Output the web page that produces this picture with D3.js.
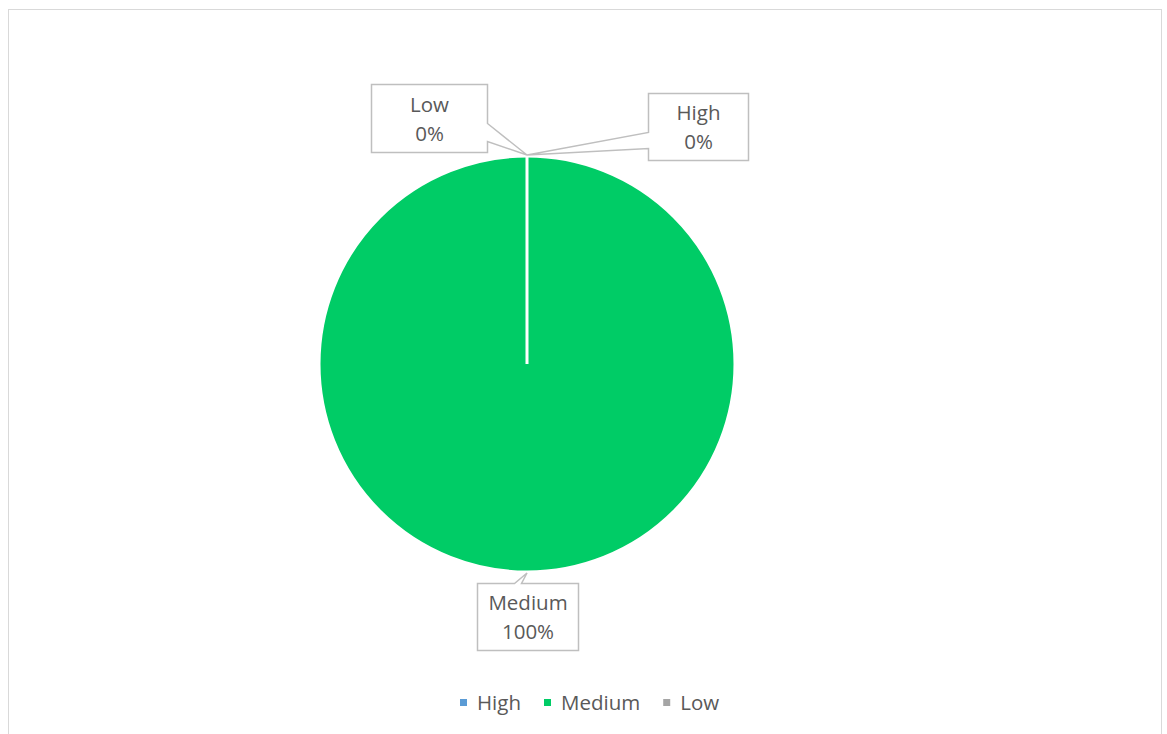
<!DOCTYPE html>
<html>
<head>
<meta charset="utf-8">
<script src="https://cdn.jsdelivr.net/npm/d3@7"></script>
<style>
  html, body { margin: 0; padding: 0; background: #ffffff; }
  svg { display: block; font-family: "Open Sans", sans-serif; }
</style>
</head>
<body>
<svg id="chart" width="1167" height="734"></svg>
<script>
// ---- data ----
const categories = ["High", "Medium", "Low"];
const values = [0, 1, 0];
const colors = ["#5B9BD5", "#00CC66", "#A5A5A5"];

// ---- layout ----
const W = 1167, H = 734;
const cx = 527, cy = 364, R = 208;
const svg = d3.select("#chart");

// chart area border
svg.append("rect")
  .attr("x", 8.5).attr("y", 9.5)
  .attr("width", 1153).attr("height", 760)
  .attr("fill", "#fff").attr("stroke", "#D9D9D9").attr("stroke-width", 1);

const total = d3.sum(values);
const pie = d3.pie().sort(null).value(d => d)(values);
const arc = d3.arc().innerRadius(0).outerRadius(R);

const g = svg.append("g").attr("transform", `translate(${cx},${cy})`);
g.selectAll("path.slice")
  .data(pie)
  .join("path")
  .attr("class", "slice")
  .attr("d", arc)
  .attr("fill", (d, i) => colors[i])
  .attr("stroke", "#ffffff")
  .attr("stroke-width", 3)
  .attr("stroke-linejoin", "miter");

// callout boxes: offsets relative to the leader tip on the pie edge
const callouts = [
  { dx0: 121, dx1: 221, dy0: -62, dy1: 5, side: "left", b0: 39, b1: 55 },    // High
  { dx0: -50, dx1: 51, dy0: 10, dy1: 77, side: "top", b0: 37, b1: 44 },      // Medium
  { dx0: -156, dx1: -40, dy0: -71, dy1: -3, side: "right", b0: 39, b1: 57 }  // Low
];

const fmt = d3.format(".0%");
const fs = 20.5;
pie.forEach((d, i) => {
  const mid = (d.startAngle + d.endAngle) / 2;
  const tx = cx + Math.sin(mid) * (R + 1);
  const ty = cy - Math.cos(mid) * (R + 1);
  const c = callouts[i];
  const x0 = Math.round(tx + Math.min(c.dx0, c.dx1)) + 0.5;
  const x1 = Math.round(tx + Math.max(c.dx0, c.dx1)) + 0.5;
  const y0 = Math.round(ty + c.dy0) + 0.5;
  const y1 = Math.round(ty + c.dy1) + 0.5;
  let p;
  if (c.side === "left") {
    p = `M${x0},${y0} H${x1} V${y1} H${x0} V${y0 + c.b1} L${tx},${ty} L${x0},${y0 + c.b0} Z`;
  } else if (c.side === "right") {
    p = `M${x0},${y0} H${x1} V${y0 + c.b0} L${tx},${ty} L${x1},${y0 + c.b1} V${y1} H${x0} Z`;
  } else {
    p = `M${x0},${y0} H${x0 + c.b0} L${tx},${ty} L${x0 + c.b1},${y0} H${x1} V${y1} H${x0} Z`;
  }
  svg.append("path").attr("d", p)
    .attr("fill", "#ffffff").attr("stroke", "#BFBFBF").attr("stroke-width", 1.5);
  const mx = (x0 + x1) / 2, my = (y0 + y1) / 2;
  const t = svg.append("text")
    .attr("x", mx).attr("text-anchor", "middle")
    .attr("fill", "#595959").attr("font-size", fs);
  t.append("tspan").attr("x", mx).attr("y", my - 7).text(categories[i]);
  t.append("tspan").attr("x", mx).attr("y", my + 22).text(fmt(values[i] / total));
});

// legend
const legend = svg.append("g");
let lx = 460;
const legendY = 710;
categories.forEach((c, i) => {
  legend.append("rect")
    .attr("x", lx).attr("y", legendY - 11)
    .attr("width", 7).attr("height", 7)
    .attr("fill", colors[i]);
  const t = legend.append("text")
    .attr("x", lx + 17).attr("y", legendY)
    .attr("fill", "#595959").attr("font-size", fs)
    .text(c);
  lx += 17 + t.node().getComputedTextLength() + 23;
});
</script>
</body>
</html>
